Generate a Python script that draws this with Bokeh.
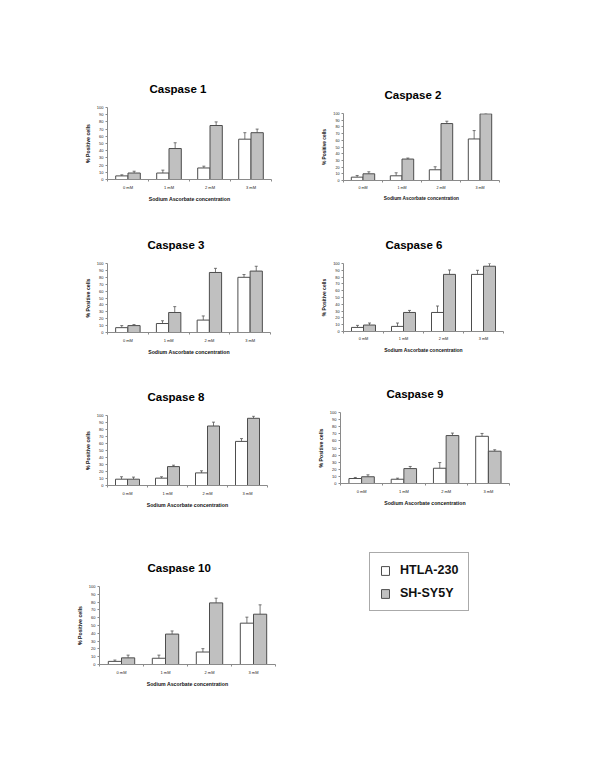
from bokeh.plotting import figure
from bokeh.models import (ColumnDataSource, Range1d, FixedTicker, Whisker, Title,
                          Legend, LegendItem, TeeHead)
from bokeh.layouts import row, column
from bokeh.embed import file_html
from bokeh.resources import INLINE

# ---------------- data ----------------
concentrations = ["0 mM", "1 mM", "2 mM", "3 mM"]
series_names = ["HTLA-230", "SH-SY5Y"]
y_ticks = [0, 10, 20, 30, 40, 50, 60, 70, 80, 90, 100]
x_title = "Sodium Ascorbate concentration"
y_title = "% Positive cells"

casp1_htla = [5, 9, 16, 56]
casp1_htla_err = [1.5, 4, 2.5, 9]
casp1_shsy = [9, 43, 75, 65]
casp1_shsy_err = [2.5, 8, 5, 5]

casp2_htla = [5, 7, 16, 62]
casp2_htla_err = [2.5, 4.5, 4.5, 12.5]
casp2_shsy = [10, 32, 85, 99.5]
casp2_shsy_err = [3, 1.5, 3.5, 1]

casp3_htla = [7, 13, 18, 80]
casp3_htla_err = [3, 4, 6, 4]
casp3_shsy = [10, 29, 87, 89]
casp3_shsy_err = [1.5, 8.5, 6, 7]

casp6_htla = [6, 7.5, 28, 84]
casp6_htla_err = [3, 5, 9.5, 6]
casp6_shsy = [9.5, 28, 84, 96]
casp6_shsy_err = [3, 3, 6.5, 4]

casp8_htla = [9, 10.5, 18, 63]
casp8_htla_err = [3.5, 2, 3, 4]
casp8_shsy = [9, 27, 85, 96]
casp8_shsy_err = [3, 2, 5.5, 3]

casp9_htla = [7, 6, 21.5, 66.5]
casp9_htla_err = [1.5, 1.5, 8, 4]
casp9_shsy = [9.5, 21, 67.5, 45.5]
casp9_shsy_err = [2.7, 3, 3.5, 2]

casp10_htla = [4, 8, 16, 53]
casp10_htla_err = [1.7, 4, 4.3, 7.7]
casp10_shsy = [8.5, 39, 79, 64.5]
casp10_shsy_err = [3.5, 4, 6, 12]

# ---------------- style ----------------
FONT = "Liberation Sans"
BAR_LINE = "#4d4d4d"
GRAY_FILL = "#c0c0c0"
AXIS_COLOR = "#8a8a8a"
TEXT_COLOR = "#222222"
IDX = list(range(len(concentrations)))


def bar_sources(w_vals, w_err, g_vals, g_err):
    src_w = ColumnDataSource(dict(x=[i - 0.15 for i in IDX], top=w_vals,
                                  up=[v + e for v, e in zip(w_vals, w_err)]))
    src_g = ColumnDataSource(dict(x=[i + 0.15 for i in IDX], top=g_vals,
                                  up=[v + e for v, e in zip(g_vals, g_err)]))
    return src_w, src_g


def style_bars(p, src_w, src_g):
    rw = p.vbar(x="x", top="top", width=0.3, source=src_w, fill_color="white",
                line_color=BAR_LINE, line_width=1)
    rg = p.vbar(x="x", top="top", width=0.3, source=src_g, fill_color=GRAY_FILL,
                line_color=BAR_LINE, line_width=1)
    return rw, rg


def make_chart(name, w_vals, w_err, g_vals, g_err, fig_w, fig_h,
               bl, br, bt, bb, title_dx, tick_fs=4.0, lab_fs=5.2, title_fs=11.5):
    title = Title(text=name, align="left", offset=title_dx, standoff=26,
                  vertical_align="bottom", text_font=FONT,
                  text_font_size=f"{title_fs}px", text_font_style="bold",
                  text_color="black")
    p = figure(width=fig_w, height=fig_h, title=title,
               x_range=Range1d(-0.5, len(concentrations) - 0.5),
               y_range=Range1d(0, 100),
               output_backend="svg", toolbar_location=None,
               min_border_left=bl, min_border_right=br,
               min_border_top=bt, min_border_bottom=bb)
    p.frame_align = False
    p.outline_line_color = None
    p.grid.visible = False
    p.background_fill_color = "white"
    p.border_fill_color = "white"

    src_w, src_g = bar_sources(w_vals, w_err, g_vals, g_err)

    for src in (src_w, src_g):
        p.add_layout(Whisker(source=src, base="x", lower="top", upper="up",
                             dimension="height", line_color="#555555", line_width=0.8,
                             upper_head=TeeHead(size=3, line_color="#555555", line_width=0.8),
                             lower_head=None))

    style_bars(p, src_w, src_g)

    xa = p.xaxis[0]
    xa.ticker = FixedTicker(ticks=IDX, minor_ticks=[i - 0.5 for i in IDX] + [len(IDX) - 0.5])
    xa.major_label_overrides = {i: c for i, c in zip(IDX, concentrations)}
    xa.major_tick_out = 0
    xa.major_tick_in = 0
    xa.minor_tick_out = 2
    xa.minor_tick_in = 0
    xa.major_label_standoff = 3
    xa.axis_label = x_title
    xa.axis_label_standoff = 3

    ya = p.yaxis[0]
    ya.ticker = FixedTicker(ticks=y_ticks)
    ya.major_tick_out = 2
    ya.major_tick_in = 0
    ya.minor_tick_out = 0
    ya.minor_tick_in = 0
    ya.major_label_standoff = 2
    ya.axis_label = y_title
    ya.axis_label_standoff = 3

    for ax in (xa, ya):
        ax.axis_line_color = AXIS_COLOR
        ax.major_tick_line_color = AXIS_COLOR
        ax.minor_tick_line_color = AXIS_COLOR
        ax.axis_line_width = 1
        ax.major_label_text_font = FONT
        ax.major_label_text_font_size = f"{tick_fs}px"
        ax.major_label_text_color = TEXT_COLOR
        ax.axis_label_text_font = FONT
        ax.axis_label_text_font_size = f"{lab_fs}px"
        ax.axis_label_text_font_style = "bold"
        ax.axis_label_text_color = "#111111"
    return p


c1 = make_chart("Caspase 1", casp1_htla, casp1_htla_err, casp1_shsy, casp1_shsy_err,
                292, 222, 107, 21, 107, 43, 42)
c2 = make_chart("Caspase 2", casp2_htla, casp2_htla_err, casp2_shsy, casp2_shsy_err,
                292, 222, 51, 85, 113, 42, 41, tick_fs=3.7, lab_fs=4.8)
c3 = make_chart("Caspase 3", casp3_htla, casp3_htla_err, casp3_shsy, casp3_shsy_err,
                292, 150, 107, 22, 41, 40, 40)
c6 = make_chart("Caspase 6", casp6_htla, casp6_htla_err, casp6_shsy, casp6_shsy_err,
                292, 150, 51, 81, 41, 41, 42, tick_fs=3.8, lab_fs=5.0)
c8 = make_chart("Caspase 8", casp8_htla, casp8_htla_err, casp8_shsy, casp8_shsy_err,
                292, 170, 107, 25, 43, 57, 40)
c9 = make_chart("Caspase 9", casp9_htla, casp9_htla_err, casp9_shsy, casp9_shsy_err,
                292, 170, 48, 75, 37, 59, 46)
c10 = make_chart("Caspase 10", casp10_htla, casp10_htla_err, casp10_shsy, casp10_shsy_err,
                 292, 218, 99, 17, 44, 96, 48)

# ---------------- legend panel ----------------
# proxy renderers (their bars lie outside this panel's visible range)
lg = figure(width=292, height=218, title=None, x_axis_type=None, y_axis_type=None,
            x_range=Range1d(-20, -19), y_range=Range1d(0, 100),
            output_backend="svg", toolbar_location=None,
            min_border_left=77, min_border_right=0, min_border_top=10, min_border_bottom=0)
lg.frame_align = False
lg.outline_line_color = None
lg.grid.visible = False
lg.background_fill_color = "white"
lg.border_fill_color = "white"
proxy_w, proxy_g = bar_sources(casp10_htla, casp10_htla_err, casp10_shsy, casp10_shsy_err)
lw, lgr = style_bars(lg, proxy_w, proxy_g)

legend = Legend(items=[LegendItem(label=series_names[0], renderers=[lw]),
                       LegendItem(label=series_names[1], renderers=[lgr])],
                location="top_left", orientation="vertical",
                glyph_width=10, glyph_height=11, label_standoff=10,
                label_height=13, label_width=40, spacing=9, padding=10, margin=0,
                label_text_font=FONT, label_text_font_size="12.5px",
                label_text_font_style="bold", label_text_color="#111111",
                border_line_color="#555555", border_line_width=1.5,
                background_fill_color="white", background_fill_alpha=1)
lg.add_layout(legend, "center")

layout = column(row(c1, c2), row(c3, c6), row(c8, c9), row(c10, lg))

with open("out.html", "w") as f:
    f.write(file_html(layout, INLINE))
